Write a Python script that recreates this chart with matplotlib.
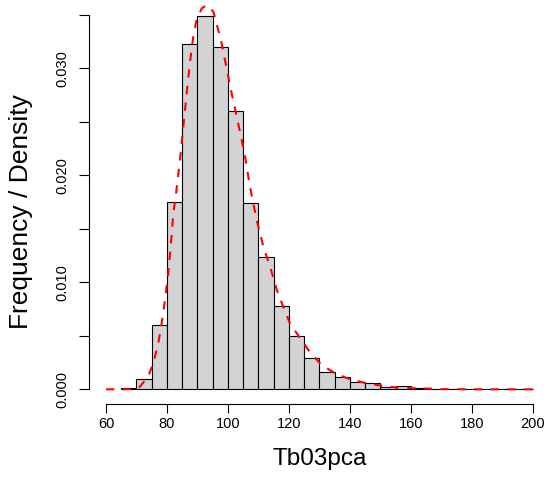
import numpy as np
import matplotlib
matplotlib.use("Agg")
import matplotlib.pyplot as plt

plt.rcParams['font.family'] = ['Liberation Sans', 'DejaVu Sans']

# histogram: left bin edges (width 5) and densities
bin_left = [65, 70, 75, 80, 85, 90, 95, 100, 105, 110, 115, 120, 125, 130,
            135, 140, 145, 150, 155, 160, 165, 170, 175, 180, 185, 190, 195]
density = [0.0001, 0.00093, 0.00598, 0.0175, 0.0323, 0.0349, 0.0320, 0.02605,
           0.0174, 0.0124, 0.0078, 0.0050, 0.0029, 0.00159, 0.00118, 0.00066,
           0.00062, 0.00026, 0.0003, 0.0001, 0.00005, 0.00005, 0.00002,
           0.00002, 0.00002, 0.00002, 0.00002]
bin_width = 5

# fitted density curve (red dashed)
curve_x = [60, 65, 70, 71.1, 73.8, 75.5, 77.15, 78.25, 79.34, 80.4, 81.3,
           82.07, 82.85, 84.26, 85.35, 86.45, 87.5, 88.6, 89.7, 91.4, 93.0,
           95.2, 96.8, 97.9, 99.0, 100.1, 101.2, 102.85, 104.5, 105.6, 107.2,
           109.4, 111.6, 113.8, 116.0, 118.1, 120.3, 123.6, 126.9, 130.7,
           135.1, 140.0, 145.5, 150.9, 155.0, 160.8, 170, 180, 190, 200]
curve_y = [0.0, 0.0, 0.00003, 0.00024, 0.00118, 0.00243, 0.0043, 0.00617,
           0.00834, 0.01084, 0.01364, 0.01645, 0.0180, 0.02143, 0.02454,
           0.02766, 0.03047, 0.03295, 0.03451, 0.0356, 0.0359, 0.03530,
           0.03358, 0.03234, 0.03078, 0.02921, 0.02766, 0.02548, 0.0233,
           0.02174, 0.01894, 0.01582, 0.01333, 0.01146, 0.00928, 0.00772,
           0.00617, 0.0048, 0.00345, 0.00227, 0.0015, 0.00093, 0.00056,
           0.00031, 0.00018, 0.0001, 0.00002, 0.0, 0.0, 0.0]

y_ticks = [0.0, 0.005, 0.010, 0.015, 0.020, 0.025, 0.030, 0.035]
y_labels = ['0.000', '', '0.010', '', '0.020', '', '0.030', '']
x_ticks = [60, 80, 100, 120, 140, 160, 180, 200]

W, H = 547, 491
fig = plt.figure(figsize=(W / 100, H / 100), dpi=100)
left_px, bottom_px = 89.3, 404.3
ax = fig.add_axes([left_px / W, (H - bottom_px) / H, 1 - left_px / W, bottom_px / H])

ax.bar(bin_left, density, width=bin_width, align='edge', color='#d3d3d3',
       edgecolor='black', linewidth=0.8)
ax.plot(curve_x, curve_y, color='red', linestyle=(0, (4, 4)), linewidth=1.5)

px_per_x = (533 - 106) / 140
px_per_y = 10700
ax.set_xlim(60 - (106 - left_px) / px_per_x, 200 + (W - 533) / px_per_x)
ax.set_ylim(-(bottom_px - 389.3) / px_per_y, 389.3 / px_per_y)

for s in ['top', 'right']:
    ax.spines[s].set_visible(False)
ax.spines['left'].set_bounds(0, 0.035)
ax.spines['bottom'].set_bounds(60, 200)
for s in ['left', 'bottom']:
    ax.spines[s].set_linewidth(0.8)

ax.set_yticks(y_ticks)
ax.set_yticklabels(y_labels, rotation=90, va='center', fontsize=10.5)
ax.set_xticks(x_ticks)
ax.set_xticklabels([str(t) for t in x_ticks], fontsize=10.5)
ax.tick_params(axis='y', length=7, width=0.8, pad=7)
ax.tick_params(axis='x', length=6.5, width=0.8, pad=3)

ax.set_xlabel('Tb03pca', fontsize=17.5, va='center')
ax.xaxis.set_label_coords((319.5 - left_px) / (W - left_px), -(459 - bottom_px) / bottom_px)
ax.set_ylabel('Frequency / Density', fontsize=19, va='center')
ax.yaxis.set_label_coords((21 - left_px) / (W - left_px), (bottom_px - 212) / bottom_px)

fig.savefig('out.png', dpi=100)
